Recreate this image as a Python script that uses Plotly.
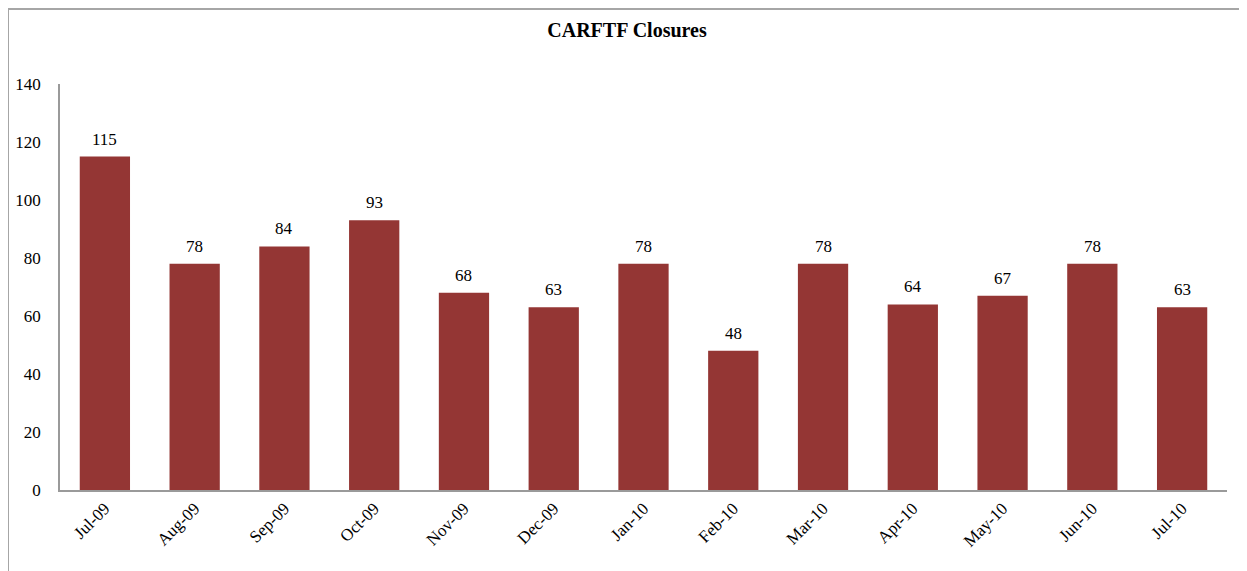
import plotly.graph_objects as go

months = ["Jul-09", "Aug-09", "Sep-09", "Oct-09", "Nov-09", "Dec-09", "Jan-10",
          "Feb-10", "Mar-10", "Apr-10", "May-10", "Jun-10", "Jul-10"]
closures = [115, 78, 84, 93, 68, 63, 78, 48, 78, 64, 67, 78, 63]
y_ticks = [0, 20, 40, 60, 80, 100, 120, 140]

# page has an 8px body margin; figure is sized to fill the rest of the window
OFF = 8
W, H = 1247 - OFF, 571 - OFF
L, R, T, B = 60 - OFF, 20, 84 - OFF, 81
pw, ph = W - L - R, H - T - B
FONT = "Liberation Serif"

fig = go.Figure(go.Bar(
    x=months, y=closures,
    marker=dict(color="#943634", line=dict(width=0)),
    hoverinfo="x+y",
))

for m, v in zip(months, closures):
    fig.add_annotation(x=m, y=v, text=str(v), showarrow=False,
                       yanchor="bottom", yshift=6,
                       font=dict(family=FONT, size=17, color="#000"))

def px_x(v):
    return (v - OFF - L) / pw

def px_y(v):
    return 1 - (v - OFF - T) / ph

fig.update_layout(
    width=W, height=H,
    margin=dict(l=L, r=R, t=T, b=B, autoexpand=False),
    paper_bgcolor="white", plot_bgcolor="white",
    bargap=0.44,
    showlegend=False,
    font=dict(family=FONT, size=17, color="#000"),
    title=dict(text="<b>CARFTF Closures</b>", x=(627 - OFF) / W, xanchor="center",
               y=1 - (30 - OFF) / H, yanchor="middle",
               font=dict(family=FONT, size=20, color="#000")),
    xaxis=dict(showline=True, linecolor="#9a9a9a", linewidth=1.5, ticks="",
               tickangle=-45, showgrid=False, automargin=False,
               tickfont=dict(family=FONT, size=17)),
    yaxis=dict(range=[0, 140], tickvals=y_ticks, showline=True, linecolor="#9a9a9a",
               linewidth=1.5, showgrid=False, zeroline=False, ticks="",
               ticklabelstandoff=14, automargin=False,
               tickfont=dict(family=FONT, size=17)),
    shapes=[
        dict(type="line", xref="paper", yref="paper",
             x0=px_x(8), x1=px_x(1260), y0=px_y(9), y1=px_y(9),
             line=dict(color="#a6a6a6", width=2)),
        dict(type="line", xref="paper", yref="paper",
             x0=px_x(8), x1=px_x(8), y0=px_y(9), y1=px_y(590),
             line=dict(color="#a6a6a6", width=2)),
    ],
)

fig.write_html("out.html")
